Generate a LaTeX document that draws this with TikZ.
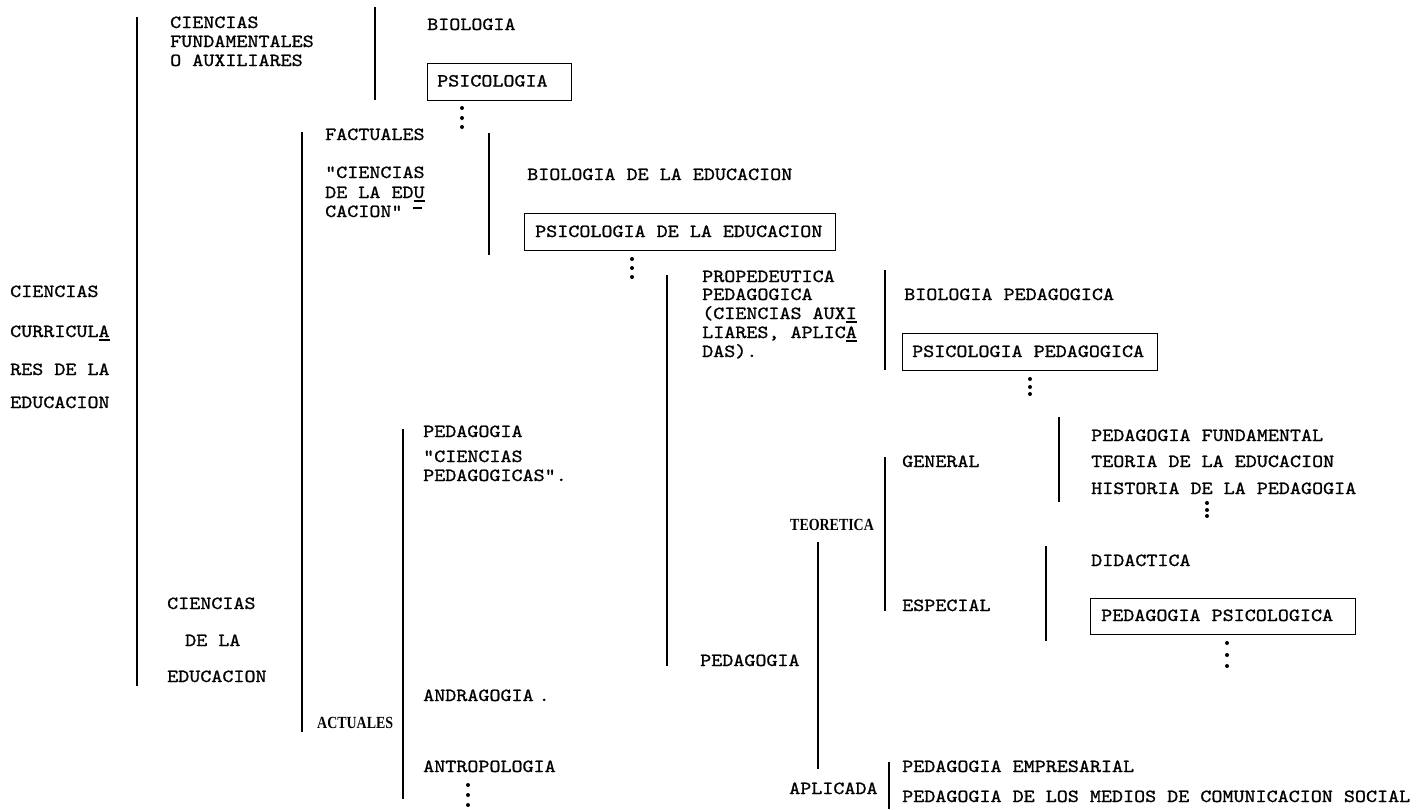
\documentclass[tikz,border=0pt]{standalone}
\usepackage{fontspec}
\newfontfamily\tw[FakeStretch=1.137,FakeBold=1.1,WordSpace={1,0,0}]{lmmono10-regular.otf}
\newfontfamily\cond[FakeStretch=0.82]{Liberation Serif}
\newcommand\ulx[1]{\rlap{\rule[-3.5pt]{0.6em}{1.4pt}}#1}
\begin{document}
\begin{tikzpicture}[x=1pt,y=-1pt,
  txt/.style={font=\tw\fontsize{18.5}{20}\selectfont, inner sep=0pt, anchor=base west},
  cnd/.style={font=\cond\bfseries\fontsize{17}{19}\selectfont, inner sep=0pt, anchor=base west},
  bx/.style={draw, line width=1.4pt, inner sep=0pt, minimum height=37pt, anchor=north west},
  brk/.style={line width=1.6pt},
  dt/.style={fill=black}]
\useasboundingbox (0,0) rectangle (1416,809);

% bracket lines
\draw[brk] (137,17) -- (137,686);
\draw[brk] (375,7) -- (375,100);
\draw[brk] (302,132) -- (302,732);
\draw[brk] (489,133) -- (489,255);
\draw[brk] (667,275) -- (667,666);
\draw[brk] (885,270) -- (885,370);
\draw[brk] (403,429) -- (403,799);
\draw[brk] (885,457) -- (885,611);
\draw[brk] (818,542) -- (818,769);
\draw[brk] (889,762) -- (889,809);
\draw[brk] (1059,417) -- (1059,502);
\draw[brk] (1046,546) -- (1046,641);

% left column
\node[txt] (cc1) at (10,297) {CIENCIAS};
\node[txt] (cc2) at (10,337) {CURRICUL\ulx{A}};
\node[txt] (cc3) at (10,375) {RES DE LA};
\node[txt] (cc4) at (10,408) {EDUCACION};

% top branch
\node[txt] (cf1) at (170,28) {CIENCIAS};
\node[txt] (cf2) at (170,47) {FUNDAMENTALES};
\node[txt] (cf3) at (170,66) {O AUXILIARES};
\node[txt] (bio) at (427,30) {BIOLOGIA};
\node[bx, minimum width=144pt] (psi) at (427,63) {};
\node[txt] (psit) at (437,86.5) {PSICOLOGIA};

% factuales
\node[txt] (fac) at (325,140) {FACTUALES};
\node[txt] (ce1) at (325,178) {"CIENCIAS};
\node[txt] (ce2) at (325,198) {DE LA ED\ulx{U}};
\node[txt] (ce3) at (325,217) {CACION"};
\draw[line width=1.4pt] (413,208) -- (422,208);
\node[txt] (bioed) at (527,180) {BIOLOGIA DE LA EDUCACION};
\node[bx, minimum width=311pt] (psied) at (524,213) {};
\node[txt] (psiedt) at (535,237) {PSICOLOGIA DE LA EDUCACION};

% propedeutica
\node[txt] (pr1) at (702,282) {PROPEDEUTICA};
\node[txt] (pr2) at (702,300) {PEDAGOGICA};
\node[txt] (pr3) at (702,319) {(CIENCIAS AUX\ulx{I}};
\node[txt] (pr4) at (702,338) {LIARES, APLIC\ulx{A}};
\node[txt] (pr5) at (702,357) {DAS).};
\node[txt] (biop) at (904,300) {BIOLOGIA PEDAGOGICA};
\node[bx, minimum width=255pt] (psip) at (902,333) {};
\node[txt] (psipt) at (912,357) {PSICOLOGIA PEDAGOGICA};

% pedagogia (actuales)
\node[txt] (ped1) at (423,437) {PEDAGOGIA};
\node[txt] (cp1) at (423,462) {"CIENCIAS};
\node[txt] (cp2) at (423,481) {PEDAGOGICAS".};
\node[txt] (andr) at (423,701) {ANDRAGOGIA\hspace{5pt}.};
\node[txt] (antr) at (423,772) {ANTROPOLOGIA};

\node[txt] (ced1) at (167,609) {CIENCIAS};
\node[txt] (ced2) at (185,646) {DE LA};
\node[txt] (ced3) at (167,682) {EDUCACION};
\node[cnd] (act) at (317,728) {ACTUALES};

% pedagogia branch
\node[txt] (ped2) at (700,666) {PEDAGOGIA};
\node[cnd] (teo) at (790,530) {TEORETICA};
\node[txt] (gen) at (902,467) {GENERAL};
\node[txt] (esp) at (902,611) {ESPECIAL};
\node[txt] (pf) at (1091,441) {PEDAGOGIA FUNDAMENTAL};
\node[txt] (te) at (1091,467) {TEORIA DE LA EDUCACION};
\node[txt] (hp) at (1091,494) {HISTORIA DE LA PEDAGOGIA};
\node[txt] (did) at (1091,566) {DIDACTICA};
\node[bx, minimum width=265pt, minimum height=36pt] (pps) at (1090,598) {};
\node[txt] (ppst) at (1101,621) {PEDAGOGIA PSICOLOGICA};
\node[txt] (apl) at (789,794) {APLICADA};
\node[txt] (pemp) at (902,772) {PEDAGOGIA EMPRESARIAL};
\node[txt] (pmed) at (902,802) {PEDAGOGIA DE LOS MEDIOS DE COMUNICACION SOCIAL};

% continuation dots
\foreach \y in {108,118,127} \fill[dt] (462,\y) circle (2);
\foreach \y in {259,268,277} \fill[dt] (632,\y) circle (2);
\foreach \y in {379,387,394} \fill[dt] (1030,\y) circle (2);
\foreach \y in {503,510,516} \fill[dt] (1207,\y) circle (2);
\foreach \y in {643,655,666} \fill[dt] (1227,\y) circle (2);
\foreach \y in {785,795,805} \fill[dt] (468,\y) circle (2);
\end{tikzpicture}
\end{document}
